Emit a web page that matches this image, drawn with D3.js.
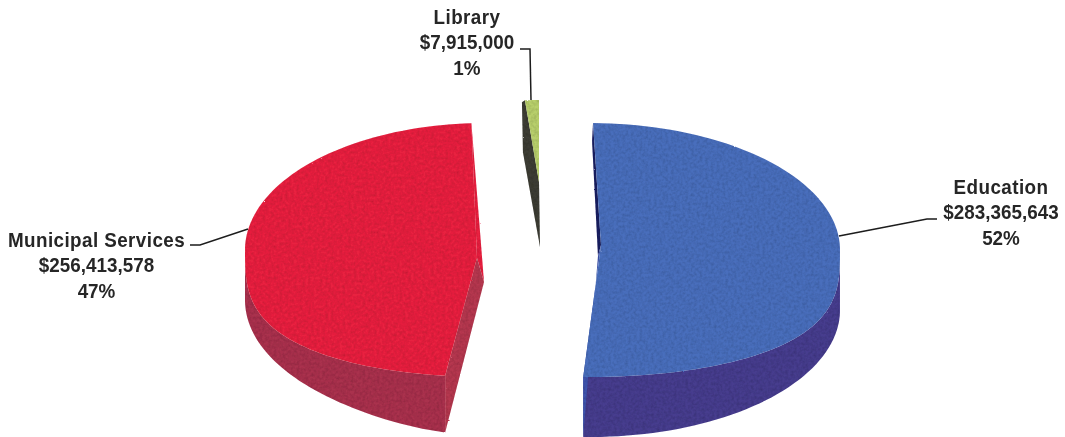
<!DOCTYPE html>
<html><head><meta charset="utf-8">
<script src="https://cdn.jsdelivr.net/npm/d3@7/dist/d3.min.js"></script>
<style>html,body{margin:0;padding:0;background:#fff;}svg{display:block;}</style>
</head><body><svg id="c" width="1065" height="437"></svg>
<script>
const categories = ["Education", "Municipal Services", "Library"];
const amounts = [283365643, 256413578, 7915000];
const amountLabels = ["$283,365,643", "$256,413,578", "$7,915,000"];
const percentLabels = ["52%", "47%", "1%"];

// projection parameters for each exploded slice (3D tilt of the pie)
const layout = {
  "Education": {cx: 590, cy: 250, rx: 250, ry: 127, rot: 0.7, sweep: 0.971, base: 60, bump: 0,
    apex: [601, 245], apexB: [598, 256], backEnd: "start", backDrop: [[-1, 18]],
    top: "#4a6ebc", wall: "#463c8e", cut: "#3f55ad", back: "#1e2260"},
  "Municipal Services": {cx: 485, cy: 250, rx: 240, ry: 127, rot: 3.3, sweep: 0.992, base: 50, bump: 8,
    apex: [477, 258], apexB: [484, 282], backEnd: "end", backDrop: [],
    top: "#e8243f", wall: "#a9334d", cut: "#b5394f", back: "#e8243f"},
  "Library": {cx: 539, cy: 190, rx: 155, ry: 90, rot: 0, sweep: 1, base: null, bump: 0,
    apex: [539, 182], apexB: [540, 247], backEnd: "start", backDrop: [[-3, 2], [-2, 52]],
    top: "#b8cf6c", wall: "none", cut: "none", back: "#3d3d35"}
};
const labelPos = {
  "Education": {x: 1001, y: 194, leader: [[839, 236], [927, 219], [937, 219]]},
  "Municipal Services": {x: 96.5, y: 247, leader: [[190, 245], [200, 245], [248, 229]]},
  "Library": {x: 467, y: 24, leader: [[520, 49], [530, 49], [531, 100]]}
};
const lineGap = 25.5, narrow = 0.92;

const svg = d3.select("#c");
const defs = svg.append("defs");
const f = defs.append("filter").attr("id", "scan").attr("x", "-2%").attr("y", "-2%").attr("width", "104%").attr("height", "104%");
f.append("feTurbulence").attr("type", "fractalNoise").attr("baseFrequency", 0.35).attr("numOctaves", 2).attr("seed", 4).attr("result", "n");
f.append("feDisplacementMap").attr("in", "SourceGraphic").attr("in2", "n").attr("scale", 1.6).attr("result", "d");
f.append("feColorMatrix").attr("in", "n").attr("type", "matrix").attr("values", "0 0 0 0 0  0 0 0 0 0  0 0 0 0 0  0.5 0 0 0 -0.17").attr("result", "m");
f.append("feComposite").attr("in", "m").attr("in2", "d").attr("operator", "in").attr("result", "mc");
const fm = f.append("feMerge");
fm.append("feMergeNode").attr("in", "d");
fm.append("feMergeNode").attr("in", "mc");
defs.append("filter").attr("id", "soft").append("feGaussianBlur").attr("stdDeviation", 0.4);

const pie = d3.pie().sort(null).value(d => d);
const arcs = pie(amounts);
const deg = Math.PI / 180;
const lg = d3.line();

function rimOf(a, L) {
  const n = 90;
  const span = (a.endAngle - a.startAngle) * L.sweep;
  const start = a.startAngle + L.rot * deg;
  const ang = d3.scaleLinear().domain([0, n]).range([start, start + span]);
  return d3.range(n + 1).map(i => {
    const th = ang(i), s = Math.sin(th), c = -Math.cos(th);
    const top = c > 0 ? L.cy + L.ry * Math.pow(c, 0.65) : L.cy + L.ry * c;
    const bot = c > 0 && L.base !== null ? L.cy + L.base + L.ry * c + L.bump * Math.pow(c, 8) : null;
    return {x: L.cx + L.rx * s, top, bot};
  });
}

const g = svg.append("g").attr("filter", "url(#scan)");
["Library", "Municipal Services", "Education"].forEach(name => {
  const i = categories.indexOf(name);
  const L = layout[name];
  const rim = rimOf(arcs[i], L);
  const topPts = rim.map(p => [p.x, p.top]);
  const backP = L.backEnd === "start" ? rim[0] : rim[rim.length - 1];
  const nearP = L.backEnd === "start" ? rim[rim.length - 1] : rim[0];
  // hidden-side cut face
  const backPoly = [[backP.x, backP.top]]
    .concat(L.backDrop.map(o => [backP.x + o[0], backP.top + o[1]]))
    .concat([L.apexB, L.apex]);
  g.append("path").attr("d", lg(backPoly) + "Z").attr("fill", L.back);
  // outer wall and near cut face
  if (L.base !== null) {
    const near = rim.filter(p => p.bot !== null);
    const wall = near.map(p => [p.x, p.top]).concat(near.slice().reverse().map(p => [p.x, p.bot]));
    g.append("path").attr("d", lg(wall) + "Z").attr("fill", L.wall);
    g.append("path").attr("d", lg([L.apex, L.apexB, [nearP.x, nearP.bot], [nearP.x, nearP.top]]) + "Z").attr("fill", L.cut);
  }
  // top face
  g.append("path").attr("d", lg([L.apex].concat(topPts)) + "Z").attr("fill", L.top);
});

const tg = svg.append("g").attr("filter", "url(#soft)");
categories.forEach((c, i) => {
  const P = labelPos[c];
  tg.append("path").attr("d", lg(P.leader)).attr("fill", "none").attr("stroke", "#1c1c1c").attr("stroke-width", 1.5);
  const text = tg.append("text").attr("text-anchor", "middle")
    .attr("transform", `translate(${P.x},0) scale(${narrow},1)`)
    .attr("font-family", "'Liberation Sans',sans-serif").attr("font-weight", "bold")
    .attr("font-size", 20.5).attr("fill", "#262626");
  [c, amountLabels[i], percentLabels[i]].forEach((s, k) => {
    text.append("tspan").attr("x", 0).attr("y", P.y + k * lineGap)
      .attr("letter-spacing", k === 0 ? 0.45 : 0).text(s);
  });
});
</script></body></html>
